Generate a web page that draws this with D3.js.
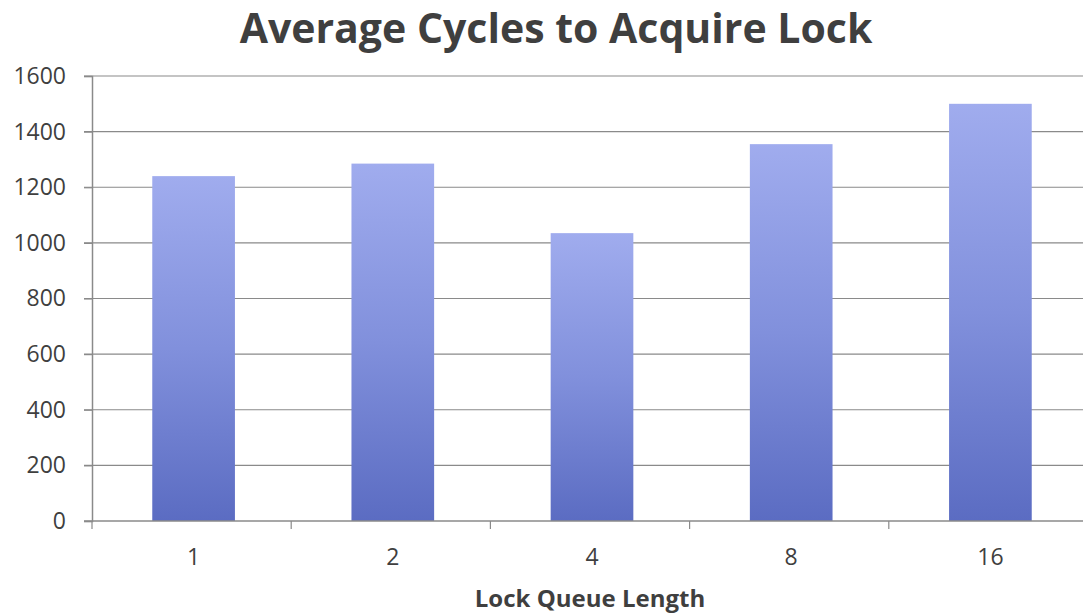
<!DOCTYPE html>
<html>
<head>
<meta charset="utf-8">
<script src="https://cdn.jsdelivr.net/npm/d3@7"></script>
<style>
  html, body { margin: 0; padding: 0; background: #fff; }
  svg { display: block; }
</style>
</head>
<body>
<svg id="chart" width="1083" height="614"></svg>
<script>
const categories = ["1", "2", "4", "8", "16"];
const values = [1240, 1285, 1035, 1355, 1500];
const yTicks = [0, 200, 400, 600, 800, 1000, 1200, 1400, 1600];
const titleText = "Average Cycles to Acquire Lock";
const xTitleText = "Lock Queue Length";

const svg = d3.select("#chart");
const W = 1083;
const plotLeft = 92, plotTop = 76, plotW = 996, plotH = 445;
const font = "'Open Sans', Lato, sans-serif";
const textColor = "#3f3f3f";
const axisColor = "#8a8a8a";

const x = d3.scaleBand().domain(categories).range([plotLeft + 2, plotLeft + plotW + 2]).paddingInner(0.585).paddingOuter(0.2925);
const y = d3.scaleLinear().domain([0, 1600]).range([plotTop + plotH, plotTop]);

const defs = svg.append("defs");
const grad = defs.append("linearGradient").attr("id", "barGrad").attr("x1", 0).attr("y1", 0).attr("x2", 0).attr("y2", 1);
grad.append("stop").attr("offset", "0%").attr("stop-color", "#a0acee");
grad.append("stop").attr("offset", "50%").attr("stop-color", "#8190dc");
grad.append("stop").attr("offset", "100%").attr("stop-color", "#5b6cc2");

// gridlines
svg.append("g").selectAll("line").data(yTicks.filter(d => d > 0)).join("line")
  .attr("x1", plotLeft - 8).attr("x2", W)
  .attr("y1", d => y(d)).attr("y2", d => y(d))
  .attr("stroke", axisColor).attr("stroke-width", 1.2);

// bars
svg.append("g").selectAll("rect").data(categories).join("rect")
  .attr("x", d => x(d))
  .attr("width", x.bandwidth())
  .attr("y", (d, i) => y(values[i]))
  .attr("height", (d, i) => y(0) - y(values[i]))
  .attr("fill", "url(#barGrad)");

// y axis
const yAxis = svg.append("g").attr("transform", `translate(${plotLeft},0)`)
  .call(d3.axisLeft(y).tickValues(yTicks).tickSize(8).tickPadding(18).tickFormat(d3.format("d")));
yAxis.select(".domain").attr("stroke", axisColor).attr("stroke-width", 1.5);
yAxis.selectAll(".tick line").attr("stroke", axisColor).attr("stroke-width", 1.2);
yAxis.selectAll(".tick text").attr("fill", textColor).attr("font-family", font).attr("font-size", 23);

// x axis, ticks at category boundaries
const bounds = d3.range(categories.length + 1).map(i => plotLeft + i * plotW / categories.length);
const xg = svg.append("g");
xg.append("line").attr("x1", plotLeft - 8).attr("x2", W)
  .attr("y1", y(0)).attr("y2", y(0)).attr("stroke", axisColor).attr("stroke-width", 1.5);
xg.selectAll("line.tk").data(bounds).join("line").attr("class", "tk")
  .attr("x1", d => d).attr("x2", d => d)
  .attr("y1", y(0)).attr("y2", y(0) + 8)
  .attr("stroke", axisColor).attr("stroke-width", 1.2);
xg.selectAll("text").data(categories).join("text")
  .attr("x", d => x(d) + x.bandwidth() / 2)
  .attr("y", 565)
  .attr("text-anchor", "middle")
  .attr("fill", textColor).attr("font-family", font).attr("font-size", 23)
  .text(d => d);

// titles
svg.append("text").attr("x", 556).attr("y", 43).attr("text-anchor", "middle")
  .attr("fill", textColor).attr("font-family", font).attr("font-weight", "bold").attr("font-size", 41)
  .text(titleText);
svg.append("text").attr("x", 590).attr("y", 607).attr("text-anchor", "middle")
  .attr("fill", textColor).attr("font-family", font).attr("font-weight", "bold").attr("font-size", 24)
  .text(xTitleText);
</script>
</body>
</html>
